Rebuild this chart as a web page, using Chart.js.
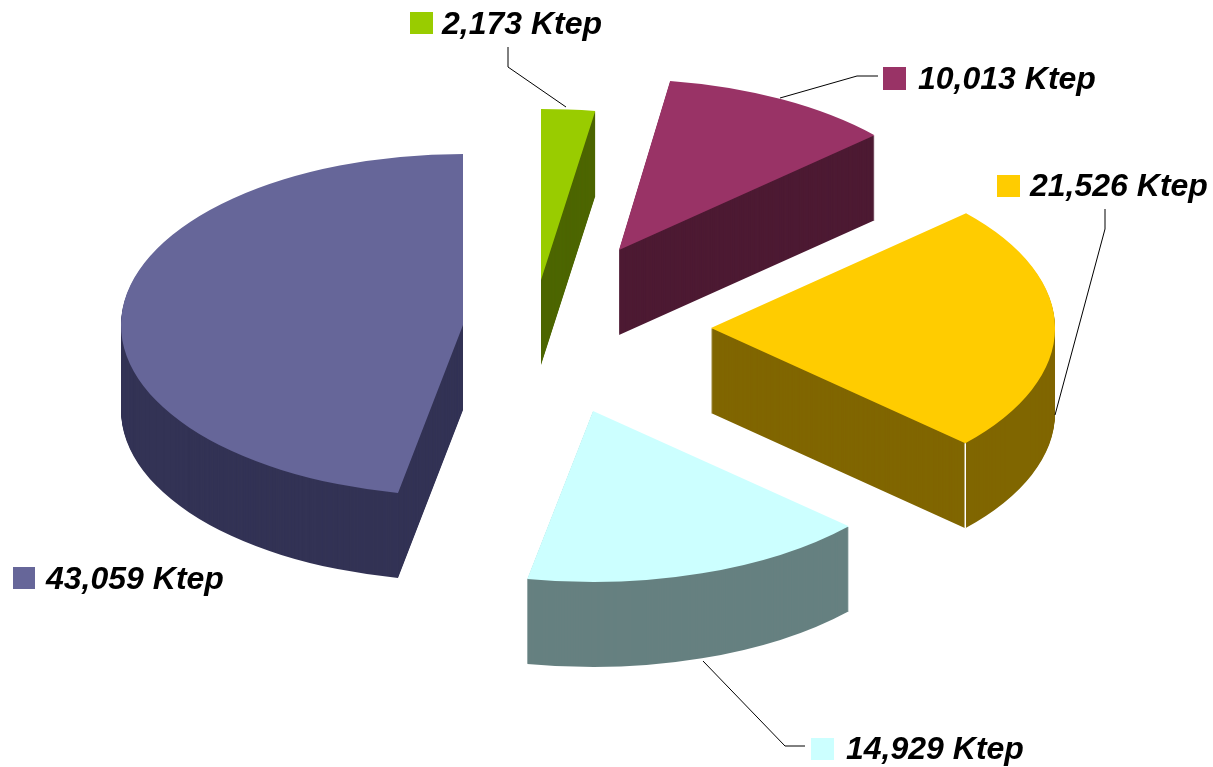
<!DOCTYPE html>
<html>
<head>
<meta charset="utf-8">
<style>html,body{margin:0;padding:0;background:#fff}canvas{display:block}</style>
<script src="https://cdn.jsdelivr.net/npm/chart.js@4/dist/chart.umd.min.js"></script>
</head>
<body>
<canvas id="c" width="1213" height="767"></canvas>
<script>
// Chart values
const values = [2173, 10013, 21526, 14929, 43059];
const unit = 'Ktep';
const topColors = ['#99CC00', '#993366', '#FFCC00', '#CCFFFF', '#666699'];
const sideColors = ['#4D6600', '#4D1A33', '#806600', '#668080', '#333355'];

// 3D look: each slice's own displacement (px from the chart centre), tilt and wall height
const explodeX = [-65.5, 12.5, 104.5, -13.5, -143.5];
const explodeY = [-103.5, -133.5, -55.5, 27.5, -58.5];
const stretchX = [1.07, 1.008, 1.006, 1.012, 1];
const squash = 0.5;
const wallHeight = 85;
const pieRadius = 342;

// Label layout: key square, text start, baseline, leader polyline
const labelLayout = [
  {key: [410, 12, 23, 22], text: [442, 34], leader: [[508, 47], [508, 67], [566, 107]]},
  {key: [883, 67, 23, 23], text: [918, 89], leader: [[878, 76], [857, 76], [780, 98]]},
  {key: [997, 175, 23, 22], text: [1030, 196], leader: [[1105, 209], [1105, 229], [1055, 415]]},
  {key: [811, 738, 23, 22], text: [846, 759], leader: [[805, 746], [785, 746], [703, 661]]},
  {key: [13, 567, 22, 22], text: [46, 589], leader: null}
];
const labelFont = 'italic bold 32px "Liberation Sans", Arial, sans-serif';

const formatLabel = v => v.toLocaleString('en-US') + ' ' + unit;

const pie3d = {
  id: 'pie3d',
  beforeDatasetsDraw(chart) {
    const ctx = chart.ctx;
    const arcs = chart.getDatasetMeta(0).data;
    const paint = (el, i, extraY, color) => {
      const base = el.options;
      el.options = Object.assign({}, base, {backgroundColor: color, borderColor: color, borderWidth: 0});
      ctx.save();
      ctx.translate(el.x + explodeX[i], el.y + explodeY[i] + extraY);
      ctx.scale(stretchX[i], squash);
      ctx.translate(-el.x, -el.y);
      el.draw(ctx);
      ctx.restore();
      el.options = base;
    };
    // back to front
    [0, 1, 4, 2, 3].forEach(i => {
      const el = arcs[i];
      for (let d = wallHeight; d >= 1; d--) paint(el, i, d, sideColors[i]);
      paint(el, i, 0, topColors[i]);
    });
    // white seam on the corner of the third slice's wall
    const el = arcs[2];
    const sx = el.x + explodeX[2] + Math.cos(el.endAngle) * el.outerRadius * stretchX[2];
    const sy = el.y + explodeY[2] + Math.sin(el.endAngle) * el.outerRadius * squash;
    ctx.save();
    ctx.strokeStyle = '#FFFFFF';
    ctx.lineWidth = 1.5;
    ctx.beginPath();
    ctx.moveTo(sx, sy);
    ctx.lineTo(sx, sy + wallHeight);
    ctx.stroke();
    ctx.restore();
    return false;
  },
  afterDraw(chart) {
    const ctx = chart.ctx;
    ctx.save();
    labelLayout.forEach((l, i) => {
      if (l.leader) {
        ctx.strokeStyle = '#000000';
        ctx.lineWidth = 1;
        ctx.beginPath();
        l.leader.forEach((p, k) => k ? ctx.lineTo(p[0], p[1]) : ctx.moveTo(p[0], p[1]));
        ctx.stroke();
      }
      ctx.fillStyle = topColors[i];
      ctx.fillRect(l.key[0], l.key[1], l.key[2], l.key[3]);
      ctx.fillStyle = '#000000';
      ctx.font = labelFont;
      ctx.textBaseline = 'alphabetic';
      ctx.textAlign = 'left';
      ctx.fillText(formatLabel(values[i]), l.text[0], l.text[1]);
    });
    ctx.restore();
  }
};

new Chart(document.getElementById('c'), {
  type: 'pie',
  data: {
    labels: values.map(formatLabel),
    datasets: [{
      data: values,
      backgroundColor: topColors,
      borderWidth: 0,
      radius: pieRadius
    }]
  },
  options: {
    responsive: false,
    animation: false,
    layout: {padding: 0},
    plugins: {legend: {display: false}, tooltip: {enabled: false}, title: {display: false}}
  },
  plugins: [pie3d]
});
</script>
</body>
</html>
